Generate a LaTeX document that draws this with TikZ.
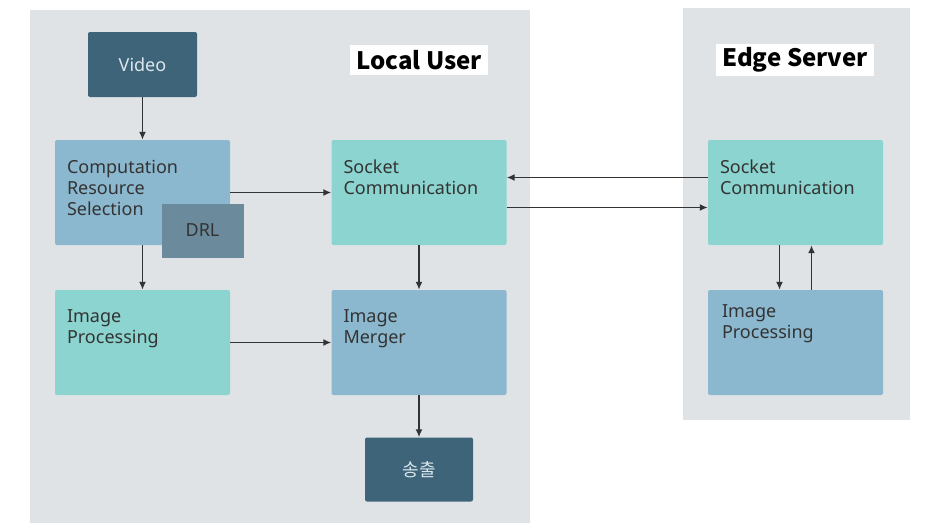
\documentclass[tikz,border=0pt]{standalone}
\usepackage{fontspec}
\setmainfont{Noto Sans}
\newfontfamily\krfont{Noto Sans CJK KR}
\usetikzlibrary{positioning,arrows.meta}
\definecolor{panelgray}{HTML}{DFE3E6}
\definecolor{darkslate}{HTML}{3E6479}
\definecolor{lightblue}{HTML}{8BB8CF}
\definecolor{lightteal}{HTML}{8BD4CF}
\definecolor{drlslate}{HTML}{6B8A9B}
\definecolor{textgray}{HTML}{333333}
\definecolor{paletext}{HTML}{DCE6EC}

\begin{document}
\begin{tikzpicture}[x=1pt, y=-1pt, node distance=150pt and 276.5pt, on grid,
        box/.style={rectangle, rounded corners=2pt, minimum width=175pt, minimum height=105pt, inner sep=0pt},
        txt/.style={anchor=north west, align=left, inner sep=0pt, xshift=12pt, yshift=-20pt,
        text=textgray, font=\fontsize{18}{21}\selectfont},
        darkbox/.style={rectangle, rounded corners=2pt, fill=darkslate, text=paletext,
        font=\fontsize{18}{21}\selectfont},
        title/.style={fill=white, inner xsep=6pt, minimum height=30pt, text=black,
        font=\krfont\bfseries\fontsize{24}{28}\selectfont},
        arr/.style={-{Latex[length=8pt,width=7pt]}, draw=textgray, line width=1.6pt}]
        \useasboundingbox (0,0) rectangle (939,525);
        % panels
        \fill[panelgray] (30,10) rectangle (530,523);
        \fill[panelgray] (683,8) rectangle (910,420);
        \node[title] (localT) at (419,60) {Local User};
        \node[title] (edgeT) at (795,60) {Edge Server};

        % local user
        \node[box, fill=lightblue, label={[txt]north west:Computation\\Resource\\Selection}] (comp) at (142.5,192.5) {};
        \node[box, fill=lightteal, label={[txt]north west:Socket\\Communication}] (sockL) [right=of comp] {};
        \node[box, fill=lightteal, label={[txt]north west:Image\\Processing}] (procL) [below=of comp] {};
        \node[box, fill=lightblue, label={[txt]north west:Image\\Merger}] (merge) [right=of procL] {};
        \node[darkbox, minimum width=109pt, minimum height=65pt] (video) [above=128pt of comp] {Video};
        \node[darkbox, minimum width=108pt, minimum height=64pt] (out) [below=127pt of merge] {\krfont 송출};
        \node[rectangle, fill=drlslate, text=textgray, minimum width=82pt, minimum height=54pt,
        font=\fontsize{18}{21}\selectfont] (drl) [below right=38pt and 60pt of comp] {DRL};

        % edge server
        \node[box, fill=lightteal, label={[txt]north west:Socket\\Communication}] (sockE) [right=376.5pt of sockL] {};
        \node[box, fill=lightblue, label={[txt, yshift=5pt, xshift=2pt]north west:Image\\Processing}] (procE) [below=of sockE] {};

        \draw[arr] (video) -- (comp);
        \draw[arr] (comp.east) -- (sockL.west);
        \draw[arr] (comp.south) -- (procL.north);
        \draw[arr] (procL) -- (merge);
        \draw[arr] (sockL) -- (merge);
        \draw[arr] (merge) -- (out);
        \draw[arr] ([yshift=15pt]sockE.west) -- ([yshift=15pt]sockL.east);
        \draw[arr] ([yshift=-15pt]sockL.east) -- ([yshift=-15pt]sockE.west);
        \draw[arr] ([xshift=-16pt]sockE.south) -- ([xshift=-16pt]procE.north);
        \draw[arr] ([xshift=16pt]procE.north) -- ([xshift=16pt]sockE.south);
\end{tikzpicture}
\end{document}
